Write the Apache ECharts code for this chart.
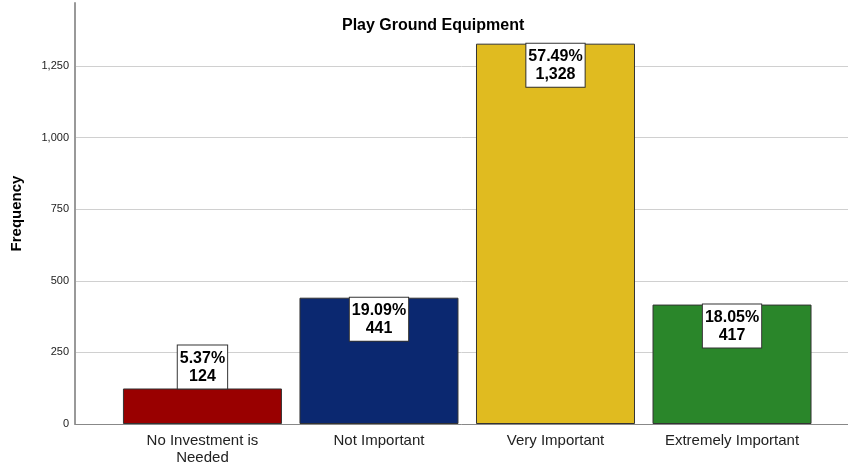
<!DOCTYPE html>
<html>
<head>
<meta charset="utf-8">
<script src="https://cdn.jsdelivr.net/npm/echarts@6/dist/echarts.min.js"></script>
<style>
  html, body { margin: 0; padding: 0; background: #fff; }
  #chart { width: 848px; height: 467px; }
</style>
</head>
<body>
<div id="chart"></div>
<script>
var categories = ['No Investment is\nNeeded', 'Not Important', 'Very Important', 'Extremely Important'];
var counts = [124, 441, 1328, 417];
var percents = ['5.37%', '19.09%', '57.49%', '18.05%'];
var barColors = ['#990000', '#0b2870', '#e0bb20', '#2a862a'];
var yTicks = [0, 250, 500, 750, 1000, 1250];

var myChart = echarts.init(document.getElementById('chart'));

function fmt(n) {
  return n.toLocaleString('en-US');
}

var option = {
  backgroundColor: '#fff',
  animation: false,
  textStyle: { fontFamily: 'Liberation Sans, Arial, sans-serif' },
  title: {
    text: 'Play Ground Equipment',
    left: 337,
    top: 13,
    textStyle: { fontSize: 16, fontWeight: 'bold', color: '#000' }
  },
  grid: { left: 75, right: 0, top: 3, bottom: 43 },
  xAxis: {
    type: 'value',
    min: -0.722,
    max: 3.657,
    axisLine: { show: true, lineStyle: { color: '#888', width: 1 } },
    axisTick: { show: false },
    splitLine: { show: false },
    axisLabel: {
      customValues: [0, 1, 2, 3],
      formatter: function (v) { return categories[Math.round(v)]; },
      color: '#222',
      fontSize: 15,
      lineHeight: 17,
      margin: 8
    }
  },
  yAxis: {
    type: 'value',
    min: 0,
    max: 1470,
    interval: 250,
    name: 'Frequency',
    nameLocation: 'middle',
    nameGap: 51,
    nameTextStyle: { fontSize: 15, fontWeight: 'bold', color: '#000' },
    axisLine: { show: true, onZero: false, lineStyle: { color: '#999', width: 2 } },
    axisTick: { show: false },
    axisLabel: {
      showMaxLabel: false,
      color: '#222',
      fontSize: 11,
      margin: 6,
      formatter: function (v) { return yTicks.indexOf(v) >= 0 ? fmt(v) : ''; }
    },
    splitLine: { show: true, showMaxLine: false, lineStyle: { color: '#d0d0d0', width: 1 } }
  },
  series: [{
    type: 'bar',
    barWidth: 159,
    data: counts.map(function (c, i) {
      return {
        value: [i, c],
        itemStyle: { color: barColors[i], borderColor: '#333', borderWidth: 1 },
        label: {
          show: true,
          position: c < 250 ? 'top' : 'insideTop',
          distance: 0,
          formatter: percents[i] + '\n' + fmt(c),
          fontSize: 16,
          fontWeight: 'bold',
          lineHeight: 18,
          color: '#000',
          backgroundColor: '#fff',
          borderColor: '#333',
          borderWidth: 1,
          padding: [4, 2, 3, 2],
          align: 'center'
        }
      };
    })
  }]
};

myChart.setOption(option);
</script>
</body>
</html>
